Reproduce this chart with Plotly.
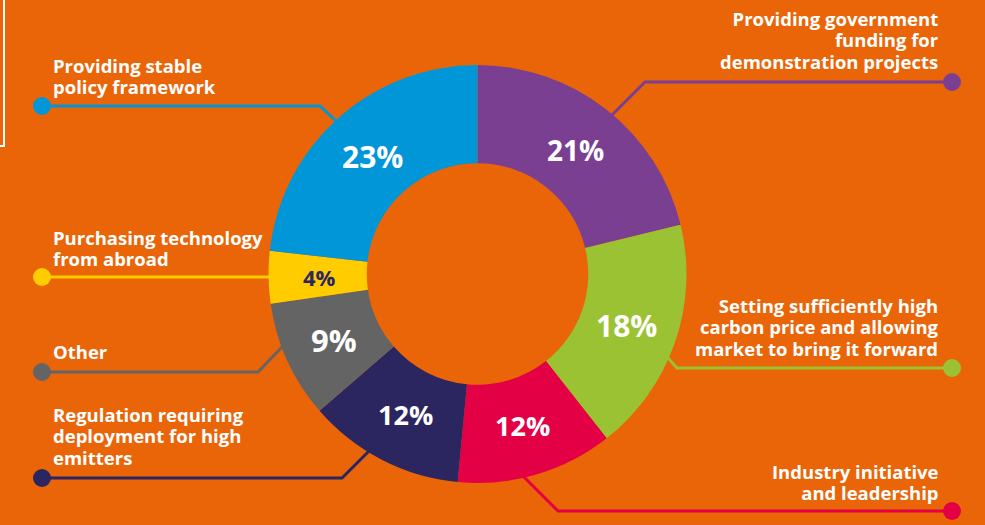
import math
import plotly.graph_objects as go

W, H = 985, 525
BG = "#EA6508"

categories = [
    "Providing government funding for demonstration projects",
    "Setting sufficiently high carbon price and allowing market to bring it forward",
    "Industry initiative and leadership",
    "Regulation requiring deployment for high emitters",
    "Other",
    "Purchasing technology from abroad",
    "Providing stable policy framework",
]
values = [21, 18, 12, 12, 9, 4, 23]
pct_labels = ["21%", "18%", "12%", "12%", "9%", "4%", "23%"]
colors = ["#7B3F92", "#9BC232", "#E30045", "#2B2560", "#646464", "#FFCC00", "#0096D8"]
text_colors = ["white", "white", "white", "white", "white", "#2B2560", "white"]
text_sizes = [28, 30, 27, 27, 31, 22, 30]

# label text lines (wrapped as in the reference)
label_lines = [
    ["Providing government", "funding for", "demonstration projects"],
    ["Setting sufficiently high", "carbon price and allowing", "market to bring it forward"],
    ["Industry initiative", "and leadership"],
    ["Regulation requiring", "deployment for high", "emitters"],
    ["Other"],
    ["Purchasing technology", "from abroad"],
    ["Providing stable", "policy framework"],
]

def px(x):
    return x / W

def py(y):
    return 1 - y / H

# donut geometry (pixels)
cx, cy, R = 477.5, 274, 209
HOLE = 0.53
R_TEXT = 158

fig = go.Figure()
fig.add_trace(go.Pie(
    labels=categories,
    values=values,
    textinfo="none",
    sort=False,
    direction="clockwise",
    rotation=0,
    hole=HOLE,
    marker=dict(colors=colors, line=dict(width=0)),
    domain=dict(x=[px(cx - R), px(cx + R)], y=[py(cy + R), py(cy - R)]),
    showlegend=False,
    hoverinfo="label+percent",
))

# percentage labels placed at the middle angle of each slice
total = sum(values)
annotations = []
cum = 0
for i, v in enumerate(values):
    mid = (cum + v / 2) / total * 2 * math.pi
    cum += v
    x = cx + R_TEXT * math.sin(mid)
    y = cy - R_TEXT * math.cos(mid)
    annotations.append(dict(
        x=px(x), y=py(y), xref="paper", yref="paper",
        text=pct_labels[i], showarrow=False,
        xanchor="center", yanchor="middle",
        font=dict(family="Open Sans", size=text_sizes[i], color=text_colors[i], weight="bold"),
    ))

# leader lines: (dot x, dot y, elbow x, end x, end y, side)
leaders = [
    (952, 82, 645, 610, 117, "right"),
    (952, 368, 677, 668, 358, "right"),
    (952, 511, 558, 522, 475, "right"),
    (42, 478, 342, 369, 451, "left"),
    (42, 372, 258, 283, 346, "left"),
    (42, 277, 272, 272, 277, "left"),
    (42, 106, 320, 336, 121, "left"),
]
# label anchor: x and y centre of the whole text block
label_pos = [
    (941, 40), (941, 327), (941, 481.5),
    (51, 436), (51, 351), (51, 247.5), (51, 75.5),
]

shapes = []
for i, (dx, dy, ex, tx, ty, side) in enumerate(leaders):
    c = colors[i]
    path = f"M {px(dx)},{py(dy)} L {px(ex)},{py(dy)} L {px(tx)},{py(ty)}"
    shapes.append(dict(type="path", path=path, xref="paper", yref="paper",
                       line=dict(color=c, width=3), layer="below"))
    r = 9
    shapes.append(dict(type="circle", xref="paper", yref="paper",
                       x0=px(dx - r), x1=px(dx + r), y0=py(dy + r), y1=py(dy - r),
                       fillcolor=c, line=dict(width=0), layer="above"))
    lx, ly = label_pos[i]
    txt = "<br>".join(f"<span style='font-size:18.5px'>{s}</span>" for s in label_lines[i])
    annotations.append(dict(
        x=px(lx), y=py(ly), xref="paper", yref="paper",
        text=txt, showarrow=False,
        xanchor="right" if side == "right" else "left",
        yanchor="middle",
        align="right" if side == "right" else "left",
        font=dict(family="Open Sans", size=16.5, color="white", weight="bold"),
    ))

# white bracket at the left edge
shapes.append(dict(type="path", xref="paper", yref="paper",
                   path=f"M {px(-2)},{py(146)} L {px(4)},{py(146)} L {px(4)},{py(-2)}",
                   line=dict(color="white", width=2)))

fig.update_layout(
    width=W, height=H,
    margin=dict(l=0, r=0, t=0, b=0),
    paper_bgcolor=BG, plot_bgcolor=BG,
    shapes=shapes, annotations=annotations,
)

fig.write_html("out.html")
